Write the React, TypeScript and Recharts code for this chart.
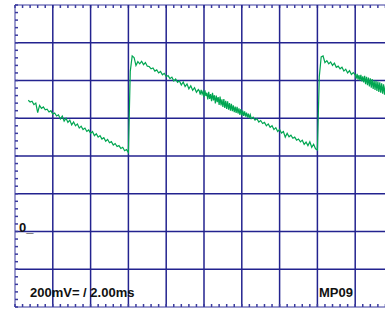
import { Line, LineChart, ReferenceLine, XAxis, YAxis } from "recharts";

// scope settings: 200 mV / div, 2 ms / div, 10 x 8 divisions
const timeDivs = [2, 4, 6, 8, 10, 12, 14, 16, 18];
const voltDivs = [-200, 0, 200, 400, 600, 800, 1000];
const timeDomain: [number, number] = [0, 20];
const voltDomain: [number, number] = [-400, 1200];
const minorTimeTicks = Array.from({ length: 51 }, (_, i) => +(i * 0.4).toFixed(1));
const minorVoltTicks = Array.from({ length: 41 }, (_, i) => -400 + i * 40);
const TOP_TICK_MV = 16; // tick length on the top frame, in mV

// captured samples (mV); each block: start time (ms), sample step (ms), values
const ramp1 = [
  695, 686, 690, 672, 680, 630, 668, 652, 660, 645, 648, 633, 640, 622, 628, 612, 618, 596, 612, 585,
  600, 578, 590, 565, 580, 560, 570, 548, 558, 540, 548, 530, 538, 520, 530, 508, 518, 500, 508, 490,
  497, 478, 488, 470, 476, 458, 466, 450, 455, 440, 446, 428, 434, 418
];
const ramp2a = [
  850, 930, 922, 880, 900, 888, 902, 884, 895, 876,
  874, 862, 866, 850, 856, 840, 848, 830, 838, 820,
  826, 810, 818, 798, 808, 790, 798, 776, 792, 768,
  782, 756, 772, 748, 762, 738, 752
];
const ramp2b = [
  745, 725, 750, 728, 742, 712, 748, 718, 735, 700,
  740, 702, 728, 690, 735, 695, 722, 678, 720, 685,
  712, 670, 715, 668, 700, 660, 702, 655, 692, 650,
  690, 645, 680, 640, 676, 638, 668, 632, 662, 628,
  660, 625, 652, 618, 648, 615, 640, 612, 636, 608,
  630, 604, 624, 600, 618, 598
];
const ramp2c = [
  606, 590, 598, 580, 588, 572, 578, 560, 570, 552,
  560, 540, 550, 530, 540, 522, 530, 500, 520, 502,
  510, 494, 500, 484, 490, 475, 484, 462, 474, 455,
  475, 446, 462, 438, 432
];
const ramp3a = [
  820, 925, 930, 895, 905, 888, 898, 880, 892, 870,
  876, 862, 870, 850, 860, 840, 852, 832, 842
];
const ramp3b = [
  830, 810, 835, 805, 828, 800, 830, 795, 822, 790,
  825, 780, 820, 775, 815, 768, 812, 762, 808, 755,
  800, 750, 798, 745, 795, 740, 790, 735, 785, 730,
  780, 725, 772, 720, 768, 718, 762, 712, 758, 708,
  740
];

const blocks: Array<[number, number, number[]]> = [
  [0.7, 0.1, ramp1],
  [6.1, 0.1, ramp2a],
  [9.75, 0.05, ramp2b],
  [12.6, 0.1, ramp2c],
  [16.1, 0.1, ramp3a],
  [18.0, 0.05, ramp3b]
];

const trace = blocks.flatMap(([start, step, values]) =>
  values.map((v, i) => ({ t: +(start + i * step).toFixed(3), v }))
);

const GRID = "#23238f";
const FRAME = "#3a3a9e";
const TRACE = "#00a651";

const blank = () => "";

export default function App() {
  return (
    <div style={{ position: "absolute", left: 0, top: 0, width: 385, height: 309, overflow: "hidden", background: "#fff" }}>
      <LineChart width={400} height={309} data={trace} margin={{ top: 5, right: 7, bottom: 2, left: 15 }}>
        <XAxis
          xAxisId="b"
          dataKey="t"
          type="number"
          domain={timeDomain}
          ticks={minorTimeTicks}
          interval={0}
          mirror
          tickFormatter={blank}
          tickSize={3}
          stroke={FRAME}
          tickLine={{ stroke: FRAME, strokeWidth: 1.5 }}
          allowDataOverflow
        />
        <YAxis
          yAxisId="l"
          type="number"
          domain={voltDomain}
          ticks={minorVoltTicks}
          interval={0}
          mirror
          tickFormatter={blank}
          tickSize={3}
          stroke={FRAME}
          tickLine={{ stroke: FRAME, strokeWidth: 1.5 }}
          allowDataOverflow
        />
        <ReferenceLine y={voltDomain[1]} xAxisId="b" yAxisId="l" stroke={FRAME} strokeWidth={1} />
        {minorTimeTicks.map((t) => (
          <ReferenceLine
            key={`tt${t}`}
            xAxisId="b"
            yAxisId="l"
            segment={[{ x: t, y: voltDomain[1] }, { x: t, y: voltDomain[1] - TOP_TICK_MV }]}
            stroke={FRAME}
            strokeWidth={1.5}
          />
        ))}
        {timeDivs.map((t) => (
          <ReferenceLine key={`t${t}`} x={t} xAxisId="b" yAxisId="l" stroke={GRID} strokeWidth={1.5} />
        ))}
        {voltDivs.map((v) => (
          <ReferenceLine key={`v${v}`} y={v} xAxisId="b" yAxisId="l" stroke={GRID} strokeWidth={1.5} />
        ))}
        <Line
          xAxisId="b"
          yAxisId="l"
          dataKey="v"
          type="linear"
          stroke={TRACE}
          strokeWidth={1.2}
          dot={false}
          isAnimationActive={false}
        />
      </LineChart>
      <svg width={385} height={309} style={{ position: "absolute", left: 0, top: 0, pointerEvents: "none" }}>
        <g fontFamily="'Liberation Sans', Arial, sans-serif" fontWeight="bold" fontSize={13} fill="#111">
          <text x={19} y={231.5}>0_</text>
          <text x={30} y={296.5}>200mV= / 2.00ms</text>
          <text x={319} y={296.5}>MP09</text>
        </g>
      </svg>
    </div>
  );
}
